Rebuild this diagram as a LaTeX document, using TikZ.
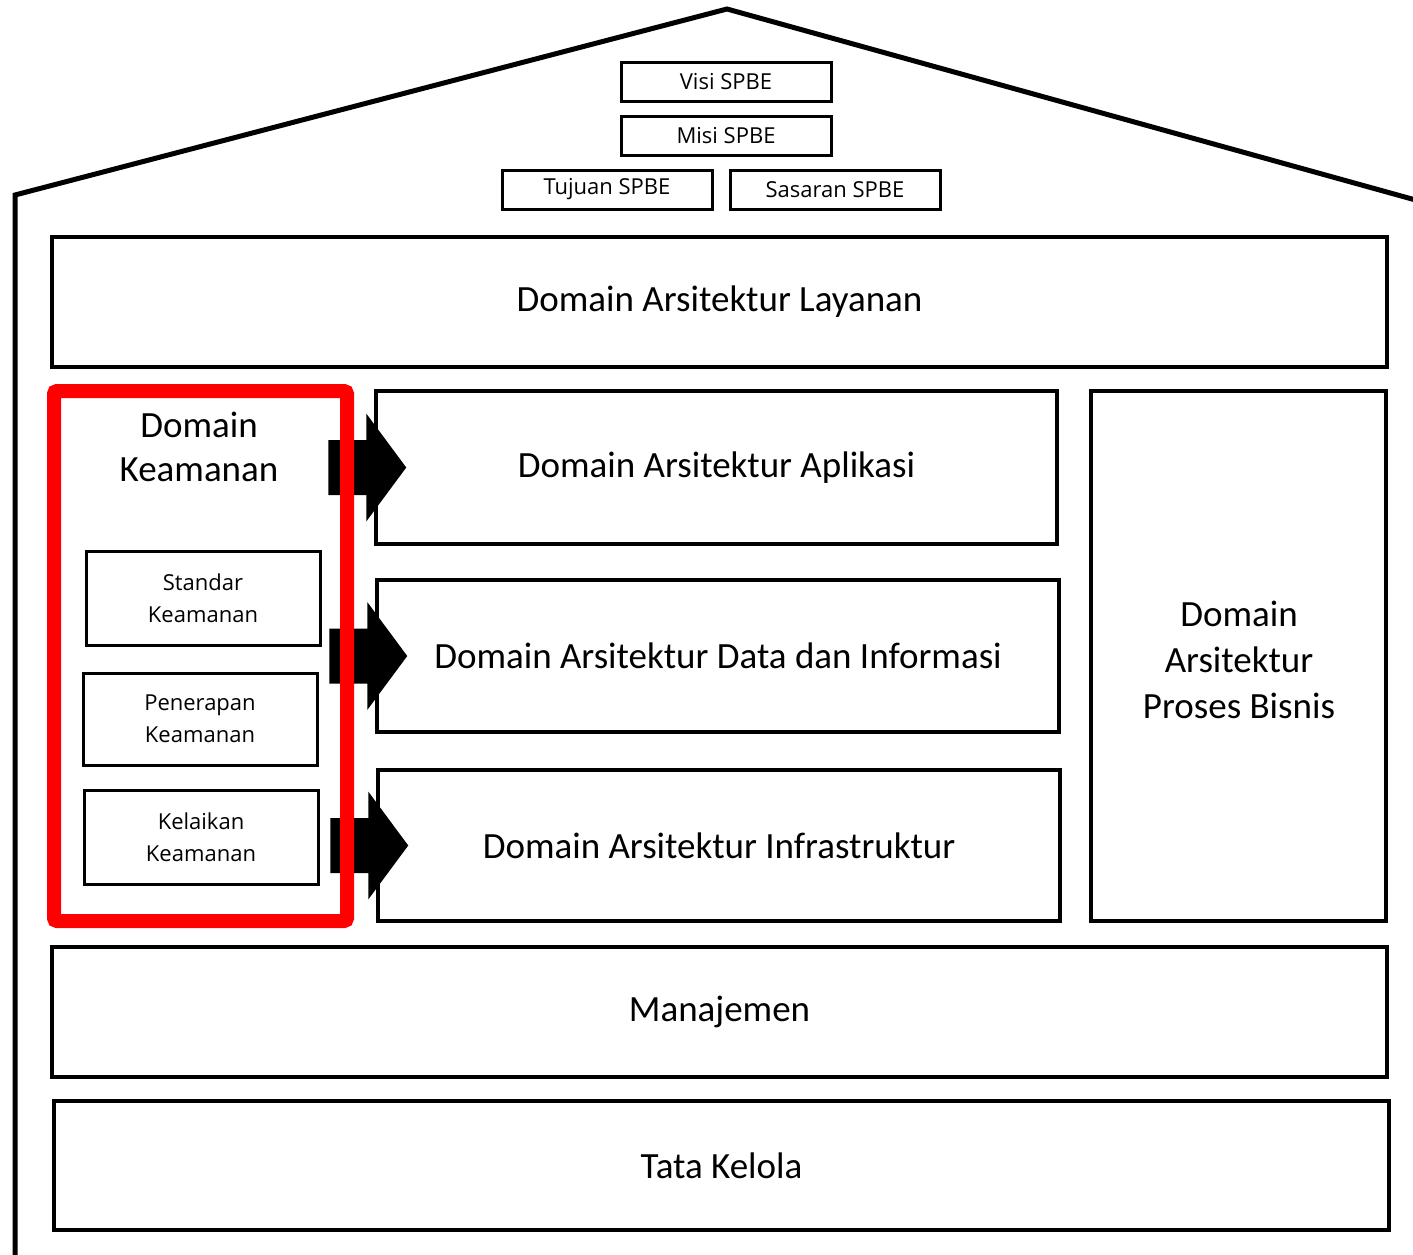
\documentclass[tikz,border=0pt]{standalone}
\usepackage{fontspec}
\setmainfont{Carlito}
\newfontfamily\smallfont{Open Sans}
\begin{document}
\begin{tikzpicture}[x=1pt,y=-1pt,
  box/.style={draw=black,line width=3.5pt,fill=white,inner sep=0pt,align=center,font=\fontsize{37}{46}\selectfont},
  sbox/.style={draw=black,line width=3pt,fill=white,inner sep=0pt,align=center,font=\smallfont\fontsize{22}{32}\selectfont},
  blockarrow/.style={fill=black,draw=none}]
\useasboundingbox (0,0) rectangle (1413,1254);
% house outline
\draw[line width=5pt,line join=miter] (15,1262) -- (15,195) -- (727,9) -- (1430,204);
% top boxes
\node[sbox,minimum width=210pt,minimum height=39pt] (visi) at (726,81.5) {Visi SPBE};
\node[sbox,minimum width=210pt,minimum height=39pt] (misi) at (726,135.5) {Misi SPBE};
\node[sbox,minimum width=210pt,minimum height=39pt] (tujuan) at (607,189.5) {Tujuan SPBE};
\node[sbox,minimum width=210pt,minimum height=39pt] (sasaran) at (835,189.5) {Sasaran SPBE};
% main boxes
\node[box,minimum width=1335pt,minimum height=130pt] (layanan) at (719.5,302) {Domain Arsitektur Layanan};
\node[box,minimum width=681pt,minimum height=153pt] (aplikasi) at (716.5,467.5) {Domain Arsitektur Aplikasi};
\node[box,minimum width=682pt,minimum height=152pt] (data) at (718,656) {Domain Arsitektur Data dan Informasi};
\node[box,minimum width=682pt,minimum height=151pt] (infra) at (719,845.5) {Domain Arsitektur Infrastruktur};
\node[box,minimum width=295pt,minimum height=530pt] (bisnis) at (1238.5,656) {};
\node[font=\fontsize{37}{46}\selectfont,align=center] (bisnislabel) at (1239,660) {Domain\\Arsitektur\\Proses Bisnis};
\node[box,minimum width=1335pt,minimum height=130pt] (manajemen) at (719.5,1012) {Manajemen};
\node[box,minimum width=1335pt,minimum height=129pt] (tata) at (721.5,1165.5) {Tata Kelola};
% security sub-boxes
\node[sbox,minimum width=234pt,minimum height=94pt] (standar) at (203,598) {Standar\\Keamanan};
\node[sbox,minimum width=234pt,minimum height=92pt] (penerapan) at (200,719) {Penerapan\\Keamanan};
\node[sbox,minimum width=234pt,minimum height=94pt] (kelaikan) at (201,837) {Kelaikan\\Keamanan};
% block arrows
\foreach \t in {aplikasi,data,infra}{
  \fill[blockarrow] ([xshift=-46pt,yshift=-27.5pt]\t.west) -- ([xshift=-8pt,yshift=-27.5pt]\t.west)
    -- ([xshift=-8pt,yshift=-54pt]\t.west) -- ([xshift=32pt]\t.west)
    -- ([xshift=-8pt,yshift=54pt]\t.west) -- ([xshift=-8pt,yshift=27.5pt]\t.west)
    -- ([xshift=-46pt,yshift=27.5pt]\t.west) -- cycle;
}
% red frame
\node[draw=red,line width=14pt,rounded corners=3pt,minimum width=293pt,minimum height=530pt,inner sep=0pt] (keamanan) at (200.5,656) {};
\node[font=\fontsize{37}{44}\selectfont,align=center] (keamananlabel) at (199,447) {Domain\\Keamanan};
\end{tikzpicture}
\end{document}
